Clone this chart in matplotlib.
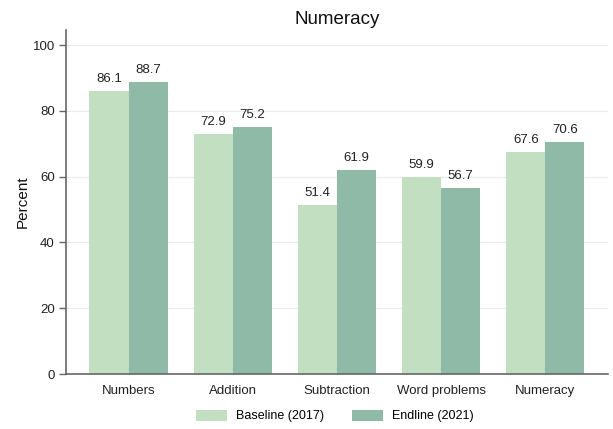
import matplotlib
matplotlib.use("Agg")
import matplotlib.pyplot as plt
import numpy as np

plt.rcParams['font.family'] = ['Liberation Sans', 'DejaVu Sans']

categories = ["Numbers", "Addition", "Subtraction", "Word problems", "Numeracy"]
baseline = [86.1, 72.9, 51.4, 59.9, 67.6]
endline = [88.7, 75.2, 61.9, 56.7, 70.6]
series_labels = ["Baseline (2017)", "Endline (2021)"]
yticks = [0, 20, 40, 60, 80, 100]

c_base = "#c3dfc2"
c_end = "#8fbaa8"

fig = plt.figure(figsize=(6.13, 4.29), dpi=100)
ax = fig.add_axes([0.1077, 0.1282, 0.884, 0.802])

x = np.arange(len(categories))
w = 0.375
b1 = ax.bar(x - w / 2, baseline, w, color=c_base, label=series_labels[0], zorder=2)
b2 = ax.bar(x + w / 2, endline, w, color=c_end, label=series_labels[1], zorder=2)

for bars, vals in ((b1, baseline), (b2, endline)):
    for rect, v in zip(bars, vals):
        ax.text(rect.get_x() + rect.get_width() / 2, v + 1.8, f"{v:.1f}",
                ha="center", va="bottom", fontsize=9.5, color="#222222")

ax.set_xlim(-0.6, 4.6)
ax.set_ylim(0, 104.6)
ax.set_yticks(yticks)
ax.set_yticklabels([str(t) for t in yticks], fontsize=9.5, color="#222222")
ax.set_xticks(x)
ax.set_xticklabels(categories, fontsize=9.5, color="#222222")
ax.tick_params(axis="x", length=0, pad=8)
ax.tick_params(axis="y", length=5, width=1, color="#666666", pad=3)

ax.grid(axis="y", color="#ebebeb", linewidth=0.8, zorder=0)
ax.set_axisbelow(True)
for s in ("top", "right"):
    ax.spines[s].set_visible(False)
for s in ("left", "bottom"):
    ax.spines[s].set_color("#666666")
    ax.spines[s].set_linewidth(1.2)

ax.set_ylabel("Percent", fontsize=11, color="#111111", labelpad=2)
ax.set_title("Numeracy", fontsize=13.5, color="#111111", pad=4)

fig.legend(handles=[b1, b2], labels=series_labels, loc="center",
           bbox_to_anchor=(335 / 613, 1 - 416 / 429), ncol=2, frameon=False,
           fontsize=9, handlelength=2.5, handleheight=1.0, columnspacing=2.2,
           handletextpad=0.72)

fig.savefig("out.png", dpi=100)
